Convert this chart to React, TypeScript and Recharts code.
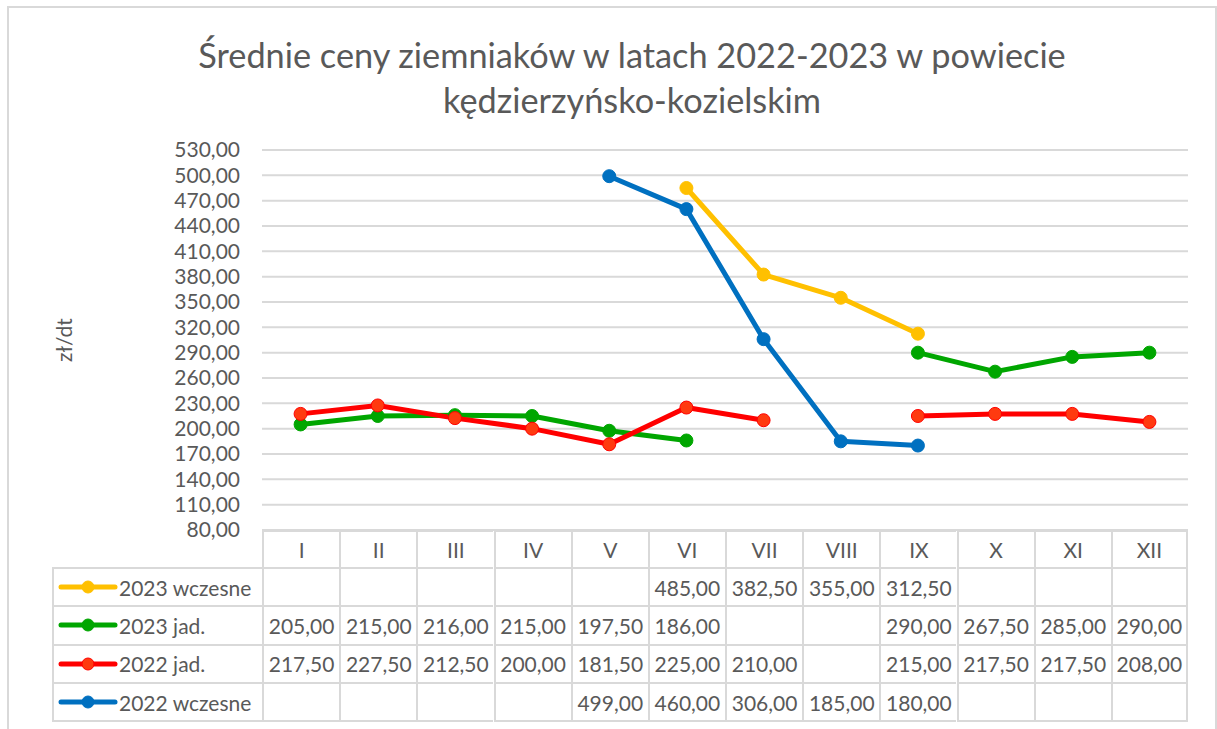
import { LineChart, Line, XAxis, YAxis, CartesianGrid } from "recharts";

const months = ["I", "II", "III", "IV", "V", "VI", "VII", "VIII", "IX", "X", "XI", "XII"];
const early2023 = [null, null, null, null, null, 485, 382.5, 355, 312.5, null, null, null];
const jad2023 = [205, 215, 216, 215, 197.5, 186, null, null, 290, 267.5, 285, 290];
const jad2022 = [217.5, 227.5, 212.5, 200, 181.5, 225, 210, null, 215, 217.5, 217.5, 208];
const early2022 = [null, null, null, null, 499, 460, 306, 185, 180, null, null, null];
const yTicks = [80, 110, 140, 170, 200, 230, 260, 290, 320, 350, 380, 410, 440, 470, 500, 530];

const SERIES = [
  { key: "e23", name: "2023 wczesne", values: early2023, color: "#FFC000", dot: "#FFC000" },
  { key: "j23", name: "2023 jad.", values: jad2023, color: "#00A600", dot: "#00A600" },
  { key: "j22", name: "2022 jad.", values: jad2022, color: "#FF0000", dot: "#FF3A10" },
  { key: "e22", name: "2022 wczesne", values: early2022, color: "#0070C0", dot: "#0070C0" },
];

const data = months.map((m, i) => {
  const row: Record<string, string | number | null> = { m };
  SERIES.forEach((s) => { row[s.key] = s.values[i]; });
  return row;
});

const FONT = "Lato, Carlito, Calibri, 'Open Sans', sans-serif";
const TXT = "#595959";
const GRID = "#D9D9D9";
const fmt = (v: number) => v.toFixed(2).replace(".", ",");

// layout of plot / table
const PL = 262, PR = 1188, PT = 150, PB = 530;
const COL = (PR - PL) / months.length;
const HEAD_H = 37, ROW_H = 38.3, TL = 52;

export default function App() {
  return (
    <div style={{ position: "absolute", left: 0, top: 0, width: 1217, height: 729, background: "#fff", fontFamily: FONT, overflow: "hidden" }}>
      <div style={{ position: "absolute", left: 7, top: 6, width: 1206, height: 740, border: "2px solid #D9D9D9" }} />

      {/* title */}
      <div style={{
        position: "absolute", left: 132, width: 1000, top: 32, textAlign: "center",
        fontSize: 34.3, lineHeight: "45px", color: TXT,
      }}>
        Średnie ceny ziemniaków w latach 2022-2023 w powiecie<br />kędzierzyńsko-kozielskim
      </div>

      {/* axis title */}
      <div style={{
        position: "absolute", left: 63, top: 340, fontSize: 21, color: TXT,
        transform: "translate(-50%, -50%) rotate(-90deg)", whiteSpace: "nowrap",
      }}>zł/dt</div>

      <div style={{ position: "absolute", left: 0, top: 0 }}>
        <LineChart width={1217} height={540} data={data}
          margin={{ top: PT, right: 1217 - PR, left: 0, bottom: 540 - PB }}>
          <CartesianGrid vertical={false} stroke={GRID} strokeWidth={2} />
          <XAxis dataKey="m" hide padding={{ left: COL / 2, right: COL / 2 }} />
          <YAxis width={PL} domain={[80, 530]} ticks={yTicks} interval={0}
            axisLine={false} tickLine={false} tickSize={0} tickMargin={22}
            tickFormatter={(v) => fmt(Number(v))}
            tick={{ fill: TXT, fontSize: 21, fontFamily: FONT }} />
          {SERIES.map((s) => (
            <Line key={s.key} dataKey={s.key} name={s.name} stroke={s.color} strokeWidth={5}
              dot={{ r: 6.5, fill: s.dot, stroke: s.color, strokeWidth: 1 }} activeDot={false}
              connectNulls={false} isAnimationActive={false} strokeLinejoin="round" />
          ))}
        </LineChart>
      </div>

      {/* data table */}
      {months.map((m, i) => (
        <div key={m} style={{
          position: "absolute", left: PL + i * COL, top: PB, width: COL, height: HEAD_H,
          boxSizing: "border-box", borderLeft: `2px solid ${GRID}`, borderTop: `2px solid ${GRID}`,
          borderRight: i === months.length - 1 ? `2px solid ${GRID}` : undefined,
          display: "flex", alignItems: "center", justifyContent: "center", fontSize: 21, color: TXT,
        }}>{m}</div>
      ))}
      {SERIES.map((s, r) => {
        const top = PB + HEAD_H + r * ROW_H;
        const last = r === SERIES.length - 1;
        const cellBorder = {
          boxSizing: "border-box" as const, borderLeft: `2px solid ${GRID}`, borderTop: `2px solid ${GRID}`,
          borderBottom: last ? `2px solid ${GRID}` : undefined,
        };
        return (
          <div key={s.key}>
            <div style={{ position: "absolute", left: TL, top, width: PL - TL, height: ROW_H + (last ? 2 : 0), ...cellBorder,
              display: "flex", alignItems: "center", fontSize: 21, color: TXT }}>
              <svg width={62} height={20} style={{ marginLeft: 3, marginRight: 0 }}>
                <line x1={4} y1={10} x2={58} y2={10} stroke={s.color} strokeWidth={5} strokeLinecap="round" />
                <circle cx={31} cy={10} r={6} fill={s.dot} stroke={s.color} strokeWidth={1} />
              </svg>
              <span style={{ whiteSpace: "nowrap" }}>{s.name}</span>
            </div>
            {s.values.map((v, i) => (
              <div key={i} style={{
                position: "absolute", left: PL + i * COL, top, width: COL, height: ROW_H + (last ? 2 : 0), ...cellBorder,
                borderRight: i === months.length - 1 ? `2px solid ${GRID}` : undefined,
                display: "flex", alignItems: "center", justifyContent: "center", fontSize: 21, color: TXT,
              }}>{v == null ? "" : fmt(v)}</div>
            ))}
          </div>
        );
      })}
    </div>
  );
}
